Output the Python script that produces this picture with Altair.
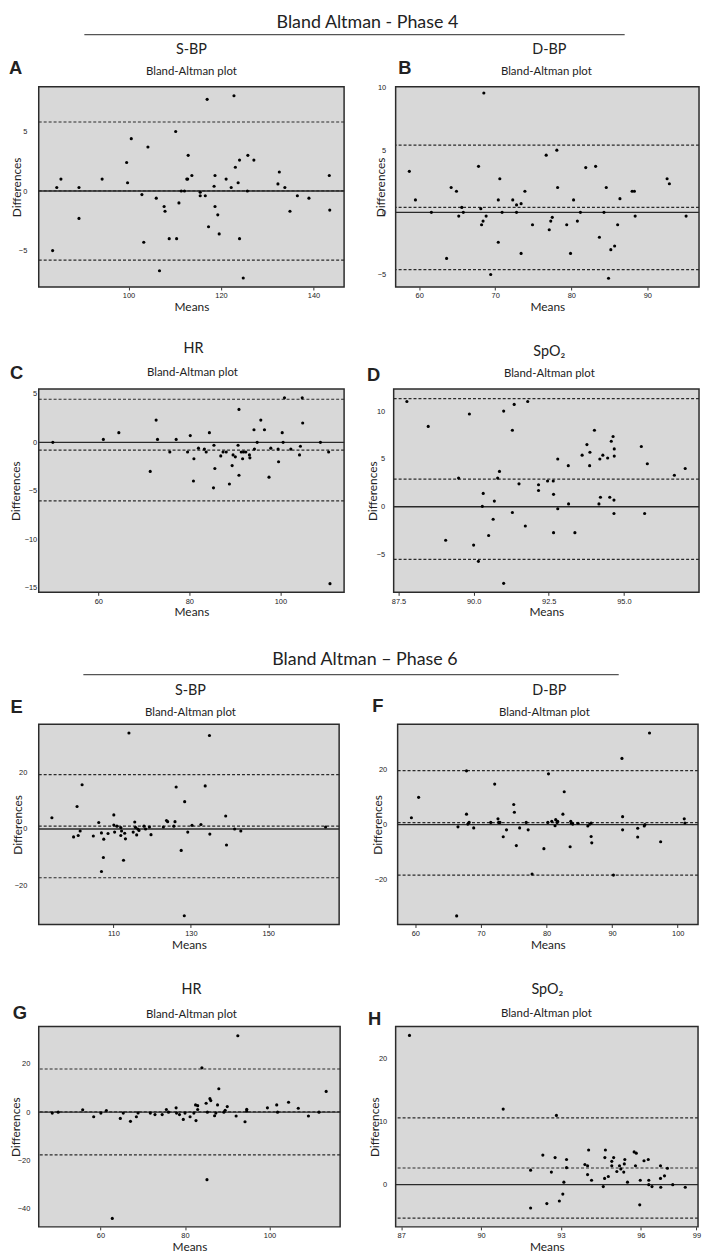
import altair as alt
import pandas as pd

# ---------------- data ----------------
# (mean, difference) pairs per panel
a_points = [(83.6,-5.0),(84.5,0.3),(85.4,1.0),(89.3,0.3),(89.3,-2.3),(94.3,1.0),(99.6,2.4),(99.8,0.7),
            (100.6,4.4),(102.9,-0.3),(103.3,-4.3),(104.2,3.7),(106.0,-0.6),(106.7,-6.7),(107.7,-1.3),
            (107.9,-1.7),(108.8,-4.0),(110.2,5.0),(110.4,-4.0),(110.9,-1.0),(111.4,0.0),(112.1,0.0),
            (112.6,1.0),(112.8,1.0),(112.9,3.0),(113.7,1.3),(115.5,-0.1),(115.5,-0.4),(116.6,-0.4),
            (117.0,7.7),(117.3,-3.0),(118.5,0.4),(118.7,1.3),(118.7,-1.3),(119.3,-2.0),(119.6,-3.6),
            (121.1,1.0),(122.2,0.3),(122.8,8.0),(123.1,2.0),(123.7,0.7),(124.0,2.6),(124.0,-4.0),
            (124.8,-7.3),(125.7,0.0),(125.8,3.0),(127.1,2.6),(132.3,0.6),(132.6,1.6),(133.8,0.3),
            (134.9,-1.7),(136.5,-0.4),(139.0,-0.6),(143.4,1.3),(143.5,-1.6)]
b_points = [(58.7,3.3),(59.5,1.0),(61.6,0.0),(63.6,-3.7),(64.2,2.0),(64.9,1.7),(65.2,-0.3),(65.6,0.4),
            (65.8,0.0),(67.8,3.7),(68.1,0.3),(68.2,-1.0),(68.4,-0.7),(68.5,9.6),(68.8,-0.3),(69.4,-5.0),
            (70.4,1.0),(70.4,-2.4),(70.6,2.7),(70.9,0.0),(72.3,1.0),(72.8,0.6),(72.8,0.0),(73.4,0.7),
            (73.4,-3.3),(73.9,1.7),(74.9,-1.0),(76.7,4.6),(77.1,-1.4),(77.3,-0.7),(77.5,-0.4),(78.1,5.0),
            (78.2,2.0),(79.4,-1.0),(79.9,-3.3),(80.3,1.0),(80.8,-0.7),(81.2,0.0),(81.9,3.6),(83.2,3.7),
            (83.7,-2.0),(84.3,0.0),(84.6,2.0),(84.9,-5.3),(85.2,-3.0),(85.7,-2.7),(86.1,-1.0),(86.4,1.1),
            (88.0,1.7),(88.3,1.7),(88.4,-0.3),(92.6,2.7),(92.9,2.3),(95.1,-0.3)]
c_points = [(50.0,0.0),(61.1,0.3),(64.5,1.0),(71.4,-3.0),(72.7,2.3),(73.0,0.3),(75.7,-1.0),(77.1,0.3),
            (79.6,-1.0),(80.2,0.7),(81.0,-1.7),(80.9,-4.0),(82.0,-0.6),(83.3,-0.7),(83.7,-1.0),(84.4,1.0),
            (85.4,-0.3),(85.6,-2.7),(85.3,-4.7),(86.9,-1.4),(87.4,-1.0),(88.1,-1.0),(88.8,-4.3),(89.4,-2.4),
            (89.6,-1.3),(90.1,-1.5),(90.7,-0.3),(90.9,3.4),(90.9,-3.4),(91.4,-1.0),(91.7,-1.7),(91.9,-1.0),
            (92.4,-1.0),(93.2,-1.3),(93.3,-1.6),(94.2,1.3),(94.3,-0.7),(94.9,0.0),(95.7,2.3),(96.5,1.3),
            (97.5,-3.6),(97.9,-0.6),(99.5,-0.7),(99.6,-2.0),(100.4,1.0),(100.6,0.0),(100.9,4.6),(102.3,-0.7),
            (104.2,-1.3),(104.4,-0.4),(104.8,4.6),(104.9,2.0),(108.8,0.0),(110.6,-1.0),(110.9,-14.6)]
d_points = [(87.78,11.0),(88.49,8.4),(89.07,-3.5),(89.5,3.0),(89.86,9.7),(90.0,-4.0),(90.16,-5.7),
            (90.29,0.05),(90.32,1.4),(90.5,-3.0),(90.65,-1.3),(90.69,0.6),(90.8,3.0),(90.86,3.7),
            (91.0,10.0),(91.0,-8.0),(91.29,8.0),(91.29,-0.6),(91.35,10.7),(91.51,2.4),(91.72,-2.0),
            (91.8,11.0),(92.16,2.3),(92.16,1.7),(92.46,2.7),(92.65,2.7),(92.66,1.3),(92.66,-2.7),
            (92.8,5.0),(92.8,-0.2),(93.15,4.3),(93.16,0.3),(93.37,-2.7),(93.61,5.4),(93.77,6.5),
            (93.86,4.3),(93.87,5.7),(94.02,8.0),(94.17,0.3),(94.2,5.0),(94.22,1.0),(94.3,5.4),
            (94.46,5.1),(94.53,1.0),(94.58,6.85),(94.64,7.35),(94.67,0.7),(94.67,-0.7),(94.68,6.05),
            (94.68,5.3),(95.58,6.3),(95.69,-0.7),(95.78,4.5),(96.68,3.3),(97.04,4.0)]
e_points = [(94.1,4.0),(99.7,-2.8),(100.6,8.0),(100.9,-2.3),(101.4,-0.7),(101.9,15.7),(104.8,-2.5),
            (106.2,2.3),(106.9,-1.4),(106.9,-15.1),(107.4,-10.1),(107.5,-3.6),(108.6,-1.6),(110.1,5.0),
            (110.1,1.4),(110.3,-1.1),(110.9,1.0),(111.9,0.5),(111.9,-2.3),(112.1,-0.7),(112.6,-11.1),
            (112.9,-1.5),(113.1,-3.5),(114.0,34.1),(115.1,-1.1),(115.5,2.5),(115.7,0.6),(116.0,-2.1),
            (116.3,0.0),(116.6,-0.5),(117.9,1.0),(118.3,0.0),(119.3,0.7),(119.7,-2.0),(122.9,0.7),
            (123.7,3.0),(124.0,2.6),(125.6,1.0),(125.9,2.6),(126.2,14.9),(127.5,-7.6),(128.4,9.7),
            (128.3,-30.8),(129.2,-1.1),(130.3,1.3),(132.6,1.6),(133.7,15.3),(134.8,33.2),(134.9,-1.8),
            (139.0,4.6),(139.2,-5.7),(141.3,0.0),(142.9,-0.7),(164.8,0.7)]
f_points = [(59.4,2.5),(60.5,9.9),(66.3,-33.1),(66.5,-0.8),(67.8,19.5),(67.8,3.8),(68.0,0.2),(68.2,0.8),
            (68.9,-1.2),(71.5,0.8),(72.1,14.7),(72.6,2.1),(72.7,0.8),(72.9,0.8),(73.4,-4.4),(73.9,-1.9),
            (75.0,7.3),(75.1,4.5),(75.4,-7.6),(75.9,-1.2),(76.9,0.8),(77.2,-1.9),(77.8,-17.9),(79.6,-8.7),
            (80.2,0.8),(80.3,18.4),(80.8,1.2),(81.3,-0.4),(81.4,1.8),(81.6,0.8),(81.7,1.2),(82.5,3.8),
            (82.7,11.9),(83.6,-8.0),(83.7,1.2),(83.8,0.5),(84.0,0.2),(84.8,0.5),(86.3,-0.5),(86.6,0.2),
            (86.8,0.6),(86.8,-4.3),(86.9,-6.6),(90.2,-18.3),(91.5,24.0),(91.6,2.9),(91.6,-1.9),
            (93.9,-1.3),(93.9,-4.5),(94.9,-0.5),(95.0,0.0),(95.7,33.2),(97.4,-6.2),(101.0,2.1),(101.1,0.6)]
g_points = [(48.6,-0.4),(50.0,0.0),(55.8,1.0),(58.4,-1.9),(60.1,-0.4),(61.4,0.7),(62.8,-44.1),
            (64.7,-2.6),(65.4,-0.4),(67.1,-3.8),(68.5,-1.9),(68.9,-0.3),(71.8,-0.4),(72.9,-1.0),
            (74.6,-1.0),(75.6,1.1),(76.1,0.0),(77.9,1.8),(78.0,-0.4),(78.7,-1.0),(79.6,-3.0),(80.0,-0.4),
            (81.2,-1.9),(82.1,-0.4),(82.6,-3.5),(82.5,3.0),(83.0,2.7),(83.0,1.1),(84.0,18.4),(85.0,3.7),
            (85.2,-28.0),(85.3,0.0),(85.9,5.6),(86.1,4.8),(87.0,-1.5),(87.3,-0.4),(87.7,3.0),(88.0,9.7),
            (89.2,0.0),(89.5,0.8),(90.0,2.3),(92.1,-1.6),(92.5,31.7),(94.2,-4.0),(94.6,1.2),(94.6,0.5),
            (99.5,1.8),(101.7,3.0),(101.9,0.0),(104.5,4.1),(106.8,1.6),(109.2,-1.6),(111.7,0.0),(113.4,8.6)]
h_points = [(87.31,23.7),(90.83,12.0),(91.86,2.3),(91.86,-3.7),(92.32,4.7),(92.47,-3.0),(92.64,2.0),
            (92.78,4.3),(92.83,11.0),(92.94,-2.6),(93.07,-1.5),(93.11,0.4),(93.21,4.0),(93.21,2.7),
            (93.9,3.2),(94.0,3.0),(94.0,1.6),(94.04,5.5),(94.15,0.7),(94.59,-0.3),(94.64,1.0),(94.65,4.3),
            (94.67,5.5),(94.78,1.3),(94.91,3.0),(94.91,3.7),(94.98,4.3),(95.1,2.1),(95.2,3.0),(95.25,2.5),
            (95.36,2.0),(95.38,3.3),(95.4,4.0),(95.5,0.4),(95.75,5.2),(95.83,5.0),(95.8,3.0),(95.96,-3.2),
            (95.98,0.7),(96.12,3.8),(96.28,4.0),(96.3,0.7),(96.3,0.0),(96.42,-0.3),(96.74,3.0),(96.74,1.0),
            (96.75,-0.4),(96.89,1.4),(97.0,2.6),(97.2,0.0),(97.67,-0.4)]

# upper limit of agreement, mean difference, lower limit of agreement
a_limits = [5.8, 0.02, -5.8]
b_limits = [5.4, 0.4, -4.6]
c_limits = [4.45, -0.8, -6.05]
d_limits = [11.3, 2.9, -5.5]
e_limits = [19.3, 1.0, -17.3]
f_limits = [19.6, 0.7, -18.3]
g_limits = [17.9, 0.1, -17.7]
h_limits = [10.6, 2.65, -5.3]

# axis domains and tick values
a_xdom, a_ydom, a_xticks, a_yticks = [80.6, 146.6], [-8.06, 8.76], [100, 120, 140], [-5, 0, 5]
b_xdom, b_ydom, b_xticks, b_yticks = [56.9, 96.8], [-6.0, 10.1], [60, 70, 80, 90], [-5, 0, 5, 10]
c_xdom, c_ydom, c_xticks, c_yticks = [46.9, 114.0], [-15.5, 5.5], [60, 80, 100], [-15, -10, -5, 0, 5]
d_xdom, d_ydom, d_xticks, d_yticks = [87.34, 97.5], [-8.94, 12.3], [87.5, 90, 92.5, 95], [-5, 0, 5, 10]
e_xdom, e_ydom, e_xticks, e_yticks = [90.7, 168.3], [-33.9, 37.2], [110, 130, 150], [-20, 0, 20]
f_xdom, f_ydom, f_xticks, f_yticks = [57.3, 103.1], [-36.2, 36.4], [60, 70, 80, 90, 100], [-20, 0, 20]
g_xdom, g_ydom, g_xticks, g_yticks = [45.4, 116.7], [-47.6, 35.5], [60, 80, 100], [-40, -20, 0, 20]
h_xdom, h_ydom, h_xticks, h_yticks = [86.79, 98.15], [-6.7, 25.1], [87, 90, 93, 96, 98.09], [0, 10, 20]

titles = {"A": "S-BP", "B": "D-BP", "C": "HR", "D": "SpO₂",
          "E": "S-BP", "F": "D-BP", "G": "HR", "H": "SpO₂"}
subtitle = "Bland-Altman plot"
header4 = "Bland Altman - Phase 4"
header6 = "Bland Altman – Phase 6"

DATA = {
    "A": (a_points, a_limits, a_xdom, a_ydom, a_xticks, a_yticks),
    "B": (b_points, b_limits, b_xdom, b_ydom, b_xticks, b_yticks),
    "C": (c_points, c_limits, c_xdom, c_ydom, c_xticks, c_yticks),
    "D": (d_points, d_limits, d_xdom, d_ydom, d_xticks, d_yticks),
    "E": (e_points, e_limits, e_xdom, e_ydom, e_xticks, e_yticks),
    "F": (f_points, f_limits, f_xdom, f_ydom, f_xticks, f_yticks),
    "G": (g_points, g_limits, g_xdom, g_ydom, g_xticks, g_yticks),
    "H": (h_points, h_limits, h_xdom, h_ydom, h_xticks, h_yticks),
}

# ---------------- layout / style ----------------
FONT = "Lato"
NUMFONT = "Liberation Sans"
INK = "#222222"

LAYOUT = {
    "A": dict(w=308, h=202, title=(154, -37), sub=(154, -15.3), letter=(-23.3, -18.7), ytx=-22.7, xty=19.5, ypad=12),
    "B": dict(w=306, h=202, title=(155, -37), sub=(152, -15.3), letter=(9.3, -18.7), ytx=-15, xty=19.5, ypad=10),
    "C": dict(w=308, h=205, title=(156, -40.7), sub=(155, -16.3), letter=(-22.3, -16.3), ytx=-23, xty=19.5, ypad=2),
    "D": dict(w=308, h=205, title=(157, -37.3), sub=(157, -15.7), letter=(-20.3, -14), ytx=-21.3, xty=19.5, ypad=9),
    "E": dict(w=303, h=202, title=(153, -33.7), sub=(153, -11.3), letter=(-22.3, -17), ytx=-21, xty=20.5, ypad=12),
    "F": dict(w=303, h=202, title=(153, -33.7), sub=(148, -11.3), letter=(-20, -18.7), ytx=-20, xty=20.5, ypad=11),
    "G": dict(w=304, h=202, title=(154, -37), sub=(154, -12), letter=(-19, -13.3), ytx=-23, xty=20, ypad=9),
    "H": dict(w=305, h=202, title=(153, -37), sub=(152, -13), letter=(-21.3, -8), ytx=-21.3, xty=20, ypad=9),
}


def text_layer(text, x, y, size, font=FONT, weight="normal"):
    return alt.Chart(pd.DataFrame({"t": [text]})).mark_text(
        font=font, fontSize=size, fontWeight=weight, color=INK,
        align="center", baseline="middle"
    ).encode(x=alt.value(x), y=alt.value(y), text="t:N")


def panel(key, header=None):
    pts, limits, xdom, ydom, xticks, yticks = DATA[key]
    L = LAYOUT[key]
    xaxis_kw = dict(values=xticks, title="Means", tickSize=3, tickColor="#333", labelPadding=2,
                    labelFlush=False, titleY=L["xty"], titleBaseline="middle")
    if key == "D":
        xaxis_kw["format"] = ".1f"
    if key == "H":
        xaxis_kw["labelExpr"] = "datum.value > 98 ? '99' : datum.label"
    xenc = alt.X("mean:Q", scale=alt.Scale(domain=xdom, nice=False, zero=False), axis=alt.Axis(**xaxis_kw))
    yenc = alt.Y("diff:Q", scale=alt.Scale(domain=ydom, nice=False, zero=False),
                 axis=alt.Axis(values=yticks, title="Differences", tickSize=0, labelPadding=L["ypad"],
                               titleX=L["ytx"], titleY=L["h"] / 2, titleAngle=270, titleBaseline="middle"))

    df = pd.DataFrame(pts, columns=["mean", "diff"])
    lim = pd.DataFrame({"diff": limits})
    zero = pd.DataFrame({"diff": [0.0]})

    dashed = alt.Chart(lim).mark_rule(color="#2a2a2a", strokeWidth=1.2, strokeDash=[3, 2]).encode(y=yenc)
    solid = alt.Chart(zero).mark_rule(color="#2a2a2a", strokeWidth=1.4).encode(y=yenc)
    dots = alt.Chart(df).mark_circle(size=10, color="black", opacity=1).encode(x=xenc, y=yenc)

    layers = [solid, dashed, dots,
              text_layer(titles[key], L["title"][0], L["title"][1], 14.5),
              text_layer(subtitle, L["sub"][0], L["sub"][1], 11.5),
              text_layer(key, L["letter"][0], L["letter"][1], 18.5, font=NUMFONT, weight="bold")]
    if header is not None:
        text, (hx, hy), (lx1, lx2, ly) = header
        layers.append(text_layer(text, hx, hy, 18))
        layers.append(alt.Chart(pd.DataFrame({"t": [0]})).mark_rule(color="#555", strokeWidth=1.3).encode(
            x=alt.value(lx1), x2=alt.value(lx2), y=alt.value(ly)))
    return alt.layer(*layers).properties(width=L["w"], height=L["h"])


pA = panel("A", header=(header4, (331.5, -64), (46, 591, -52.5)))
pB = panel("B")
pC = panel("C")
pD = panel("D")
pE = panel("E", header=(header6, (329, -65), (45, 585, -50)))
pF = panel("F")
pG = panel("G")
pH = panel("H")

# rows: plot frames placed side by side (flush = spacing between frames)
rowAB = alt.hconcat(pA, pB, spacing=52, bounds="flush").resolve_scale(x="independent", y="independent")
rowCD = alt.hconcat(pC, pD, spacing=50, bounds="flush").resolve_scale(x="independent", y="independent")
rowEF = alt.hconcat(pE, pF, spacing=59, bounds="flush").resolve_scale(x="independent", y="independent")
rowGH = alt.hconcat(pG, pH, spacing=56, bounds="flush").resolve_scale(x="independent", y="independent")

# rows stacked using full bounds (spacing between text extents)
block4 = alt.vconcat(rowAB, rowCD, spacing=26).resolve_scale(x="independent", y="independent")
block6 = alt.vconcat(rowEF, rowGH, spacing=29).resolve_scale(x="independent", y="independent")

chart = alt.vconcat(block4, block6, spacing=31).resolve_scale(
    x="independent", y="independent"
).properties(
    padding=0, background="white"
).configure_view(
    fill="#d8d8d8", stroke="#2b2b2b", strokeWidth=1.5
).configure_axis(
    grid=False, domain=False,
    labelFont=NUMFONT, labelFontSize=7.5, labelColor=INK,
    titleFont=FONT, titleFontSize=12, titleFontWeight="normal", titleColor=INK
)

chart.save("out.html", embed_options={"renderer": "svg", "actions": False})
